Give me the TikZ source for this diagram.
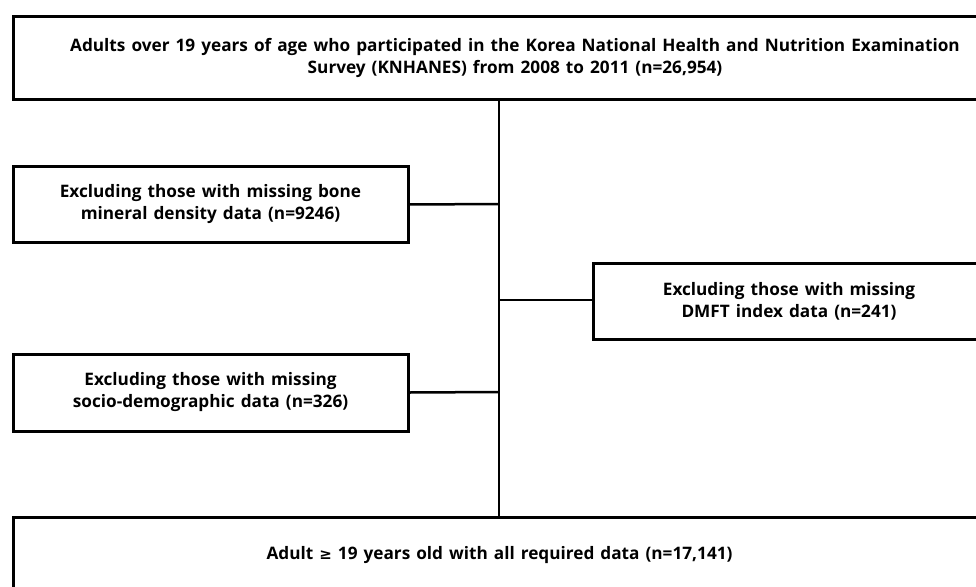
\documentclass[tikz,border=0pt]{standalone}
\usepackage{fontspec}
\newfontfamily\boxfont{Open Sans}[WordSpace=1.35]
\newfontfamily\symfont{DejaVu Sans}
\begin{document}
\begin{tikzpicture}[x=1pt,y=-1pt,
  box/.style={draw=black, line width=3pt, fill=white, inner sep=0pt, align=center, font=\boxfont\bfseries\fontsize{17.2}{22}\selectfont},
  link/.style={draw=black, line width=2.5pt}]
\useasboundingbox (0,0) rectangle (976,586);
\clip (0,0) rectangle (976,586);
\node[box, minimum width=1004pt, minimum height=82pt] (top) at (515,58)
  {Adults over 19 years of age who participated in the Korea National Health and Nutrition Examination\\
   Survey (KNHANES) from 2008 to 2011 (n=26,954)};
\node[box, minimum width=395pt, minimum height=76pt] (bmd) at (210.5,204.5)
  {Excluding those with missing bone\\ mineral density data (n=9246)};
\node[box, minimum width=392pt, minimum height=76pt] (dmft) at (789,301)
  {Excluding those with missing\\ DMFT index data (n=241)};
\node[box, minimum width=395pt, minimum height=77pt] (socio) at (210.5,392.5)
  {Excluding those with missing\\ socio-demographic data (n=326)};
\node[box, minimum width=973pt, minimum height=76pt] (final) at (499.5,555)
  {Adult {\symfont\bfseries\fontsize{15}{22}\selectfont ≥} 19 years old with all required data (n=17,141)};
\coordinate (s1) at (499,204);
\coordinate (s2) at (499,300);
\coordinate (s3) at (499,392);
\draw[link] (top.south -| s1) -- (final.north -| s1);
\draw[link] (bmd.east) -- (s1);
\draw[link] (s2) -- (dmft.west |- s2);
\draw[link] (socio.east) -- (s3);
\end{tikzpicture}
\end{document}
